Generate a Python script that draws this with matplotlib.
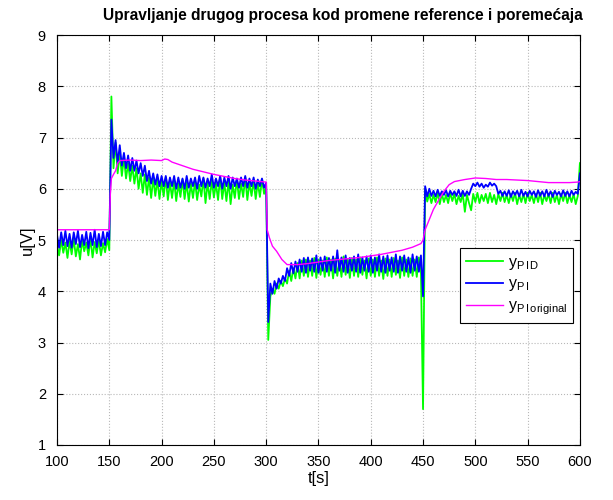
import numpy as np
import matplotlib
matplotlib.use('Agg')
import matplotlib.pyplot as plt

plt.rcParams['font.family'] = ['Liberation Sans', 'DejaVu Sans']
plt.rcParams['mathtext.fontset'] = 'custom'
plt.rcParams['mathtext.rm'] = 'Liberation Sans'
plt.rcParams['mathtext.it'] = 'Liberation Sans'

# vreme za PID i PI (korak 2 s)
t = np.arange(100, 601, 2)

# y_PID (zelena)
pid_a = [4.90, 4.70, 5.00, 4.75, 4.95, 4.65, 4.98, 4.72, 5.02, 4.68,
         4.92, 4.62, 5.00, 4.78, 4.95, 4.70, 5.03, 4.66, 4.96, 4.74,
         5.00, 4.70, 4.94, 4.76, 5.02, 4.80]
pid_b = [7.80, 6.40, 6.90, 6.30, 6.70, 6.25, 6.60, 6.20, 6.50, 6.15,
         6.45, 6.10, 6.40, 6.00, 6.30, 5.92, 6.28, 5.88, 6.22, 5.82,
         6.20, 5.86, 6.18, 5.80, 6.15, 5.85, 6.22, 5.78, 6.12, 5.82,
         6.15, 5.76, 6.10, 5.84, 6.18, 5.80, 6.12, 5.75, 6.10, 5.82,
         6.14, 5.78, 6.08, 5.85, 6.20, 5.72, 6.12, 5.80, 6.16, 5.83,
         6.10, 5.78, 6.24, 5.80, 6.12, 5.76, 6.15, 5.70, 6.08, 5.82,
         6.18, 5.80, 6.10, 5.84, 6.22, 5.78, 6.12, 5.86, 6.15, 5.80,
         6.12, 5.84, 6.18, 5.90, 6.05]
pid_c = [3.05, 3.90, 4.05, 3.95, 4.15, 4.05, 4.20, 4.10, 4.25, 4.15,
         4.40, 4.20, 4.45, 4.25, 4.55, 4.25, 4.60, 4.30, 4.62, 4.28,
         4.60, 4.30, 4.65, 4.26, 4.62, 4.32, 4.60, 4.28, 4.66, 4.30,
         4.62, 4.25, 4.64, 4.30, 4.60, 4.28, 4.68, 4.32, 4.62, 4.26,
         4.65, 4.30, 4.62, 4.28, 4.66, 4.32, 4.60, 4.25, 4.64, 4.30,
         4.62, 4.28, 4.66, 4.30, 4.60, 4.24, 4.64, 4.30, 4.62, 4.28,
         4.65, 4.32, 4.60, 4.26, 4.66, 4.30, 4.62, 4.28, 4.64, 4.30,
         4.62, 4.28, 4.66, 4.35]
pid_d = [1.70, 6.00, 5.75, 5.90, 5.72, 5.88, 5.74, 5.92, 5.70, 5.90,
         5.74, 5.88, 5.72, 5.92, 5.76, 5.90, 5.70, 5.86, 5.74, 5.90,
         5.55, 5.88, 5.72, 5.58, 5.90, 5.74, 5.92, 5.72, 5.88, 5.76,
         5.90, 5.72, 5.92, 5.74, 5.88, 5.70, 5.90, 5.76, 5.92, 5.74,
         5.88, 5.72, 5.90, 5.76, 5.92, 5.70, 5.88, 5.74, 5.90, 5.72,
         5.92, 5.76, 5.88, 5.72, 5.90, 5.74, 5.92, 5.70, 5.88, 5.76,
         5.90, 5.72, 5.92, 5.74, 5.88, 5.70, 5.90, 5.76, 5.92, 5.72,
         5.88, 5.74, 5.90, 5.70, 5.86, 6.50]
y_pid = np.array(pid_a + pid_b + pid_c + pid_d)

# y_PI (plava)
pi_a = [5.10, 4.85, 5.15, 4.90, 5.18, 4.88, 5.12, 4.85, 5.15, 4.92,
        5.18, 4.86, 5.10, 4.90, 5.16, 4.84, 5.14, 4.90, 5.20, 4.86,
        5.12, 4.88, 5.16, 4.90, 5.15, 5.00]
pi_b = [7.35, 6.60, 6.95, 6.50, 6.85, 6.45, 6.70, 6.40, 6.65, 6.35,
        6.60, 6.35, 6.55, 6.30, 6.50, 6.25, 6.45, 6.15, 6.35, 6.10,
        6.30, 6.08, 6.28, 6.05, 6.25, 6.05, 6.25, 6.02, 6.22, 6.05,
        6.25, 6.00, 6.22, 6.02, 6.20, 6.00, 6.25, 6.02, 6.20, 6.05,
        6.22, 6.00, 6.25, 6.05, 6.22, 6.02, 6.20, 6.05, 6.28, 6.02,
        6.20, 6.05, 6.25, 6.00, 6.22, 6.05, 6.25, 6.00, 6.22, 6.05,
        6.20, 6.02, 6.22, 6.05, 6.25, 6.02, 6.20, 6.05, 6.22, 6.00,
        6.18, 6.05, 6.20, 6.02, 6.12]
pi_c = [3.40, 4.15, 3.95, 4.20, 4.05, 4.25, 4.15, 4.30, 4.20, 4.45,
        4.30, 4.55, 4.35, 4.58, 4.38, 4.62, 4.38, 4.65, 4.36, 4.66,
        4.40, 4.64, 4.38, 4.70, 4.36, 4.66, 4.40, 4.68, 4.38, 4.65,
        4.40, 4.68, 4.36, 4.80, 4.40, 4.66, 4.38, 4.70, 4.36, 4.65,
        4.40, 4.68, 4.38, 4.72, 4.36, 4.66, 4.40, 4.68, 4.38, 4.70,
        4.36, 4.66, 4.40, 4.72, 4.38, 4.68, 4.36, 4.70, 4.40, 4.66,
        4.38, 4.72, 4.36, 4.68, 4.40, 4.70, 4.38, 4.66, 4.36, 4.72,
        4.40, 4.68, 4.38, 4.70]
pi_d = [3.90, 6.05, 5.85, 6.00, 5.86, 5.96, 5.85, 5.98, 5.86, 5.95,
        5.88, 5.97, 5.85, 5.96, 5.88, 5.95, 5.86, 5.98, 5.85, 5.96,
        5.86, 5.95, 5.88, 6.00, 6.10, 6.05, 6.12, 6.04, 6.10, 6.02,
        6.08, 6.04, 6.12, 6.06, 6.10, 6.05, 5.90, 5.96, 5.86, 5.95,
        5.86, 5.97, 5.84, 5.95, 5.88, 5.96, 5.85, 5.98, 5.86, 5.94,
        5.85, 5.96, 5.88, 5.95, 5.84, 5.97, 5.86, 5.95, 5.85, 5.98,
        5.86, 5.95, 5.84, 5.96, 5.88, 5.94, 5.85, 5.97, 5.86, 5.95,
        5.85, 5.96, 5.88, 5.94, 5.90, 6.30]
y_pi = np.array(pi_a + pi_b + pi_c + pi_d)

# y_P original (magenta)
t_po = [100, 148, 150, 151, 152, 154, 156, 158, 160, 170, 180, 190, 200, 203,
        206, 210, 220, 230, 240, 250, 260, 270, 280, 290, 300, 301, 303, 306,
        310, 315, 320, 330, 340, 350, 360, 370, 380, 390, 400, 410, 420, 430,
        440, 448, 450, 452, 455, 460, 465, 470, 475, 480, 490, 500, 510, 520,
        530, 540, 550, 560, 570, 580, 590, 598, 600]
y_po = [5.20, 5.20, 5.20, 5.90, 6.20, 6.28, 6.35, 6.50, 6.55, 6.56, 6.55, 6.56,
        6.55, 6.58, 6.57, 6.52, 6.45, 6.38, 6.33, 6.28, 6.24, 6.20, 6.17, 6.15,
        6.13, 5.20, 5.05, 4.88, 4.78, 4.62, 4.52, 4.52, 4.54, 4.57, 4.60, 4.62,
        4.64, 4.66, 4.69, 4.72, 4.76, 4.80, 4.86, 4.93, 5.00, 5.20, 5.35, 5.60,
        5.78, 5.95, 6.08, 6.14, 6.18, 6.21, 6.20, 6.18, 6.18, 6.17, 6.16, 6.14,
        6.12, 6.12, 6.12, 6.13, 6.14]

fig = plt.figure(figsize=(6.13, 5.0), dpi=100)
ax = fig.add_axes([0.093, 0.11, 0.853, 0.82])

ax.plot(t, y_pid, color='#00ff00', lw=1.3, label='y$_{\\mathrm{P\\,I\\,D}}$')
ax.plot(t, y_pi, color='#0000ff', lw=1.3, label='y$_{\\mathrm{P\\,I}}$')
ax.plot(t_po, y_po, color='#ff00ff', lw=1.0, label='y$_{\\mathrm{P\\,I\\,original}}$')

ax.set_xlim(100, 600)
ax.set_ylim(1, 9)
ax.set_xticks(np.arange(100, 601, 50))
ax.set_yticks(np.arange(1, 10, 1))
ax.grid(True, color='#b8b8b8', linestyle=':', linewidth=0.8)
ax.tick_params(direction='in', top=True, right=True, labelsize=10.5, length=4)
ax.tick_params(axis='x', pad=7)
ax.tick_params(axis='y', pad=8)
for s in ax.spines.values():
    s.set_linewidth(0.8)

ax.set_title('Upravljanje drugog procesa kod promene reference i poremećaja',
             fontsize=11.2, fontweight='bold', pad=11, x=0.547)
ax.set_xlabel('t[s]', fontsize=12, labelpad=2)
ax.set_ylabel('u[V]', fontsize=12, labelpad=2)

leg = ax.legend(loc='upper left', bbox_to_anchor=(0.77, 0.48), fontsize=11.5,
                fancybox=False, framealpha=1, edgecolor='black',
                handlelength=2.3, handletextpad=0.3, borderpad=0.4,
                labelspacing=0.3, borderaxespad=0)
leg.get_frame().set_linewidth(0.8)

fig.savefig('out.png', dpi=100)
